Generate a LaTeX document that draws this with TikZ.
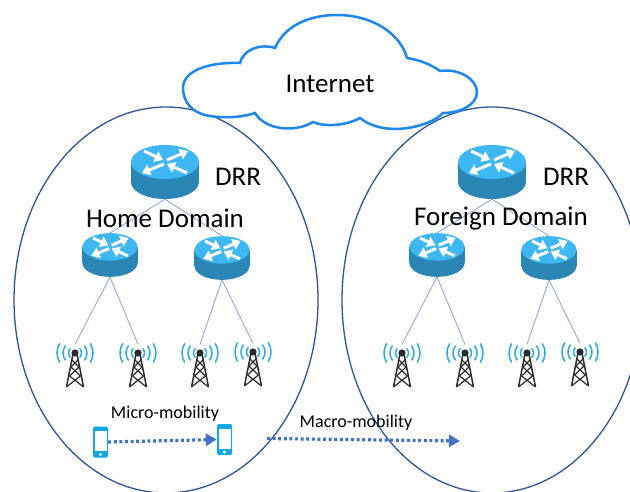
\documentclass[tikz,border=0pt]{standalone}
\usepackage{fontspec}
\setmainfont{Carlito}
\usepackage{xcolor}
\usepackage{tikz}
\usetikzlibrary{arrows.meta, positioning}
\definecolor{domainblue}{HTML}{2F5597}
\definecolor{cloudblue}{HTML}{1E86F0}
\definecolor{linkblue}{HTML}{8FAADC}
\definecolor{moveblue}{HTML}{4472C4}
\definecolor{routertop}{HTML}{3DB8F5}
\definecolor{routerside}{HTML}{2A86B5}
\definecolor{wavecyan}{HTML}{29ABE2}
\definecolor{phonecyan}{HTML}{12A8E0}
\definecolor{towerdark}{HTML}{2B2B2B}
\tikzset{
  domainring/.style={draw=domainblue, line width=1.3pt},
  linkline/.style={draw=linkblue, line width=0.9pt},
  movearrow/.style={draw=moveblue, line width=3.2pt, dash pattern=on 3pt off 2.6pt, -{Triangle[length=11pt,width=12pt,fill=moveblue]}},
  bigtext/.style={font=\fontsize{27}{30}\selectfont, inner sep=0pt},
  smalltext/.style={font=\fontsize{18}{20}\selectfont, inner sep=0pt},
  flowarrow/.style={draw=white, line width=3pt, -{Triangle[length=8pt,width=11pt]}},
  pics/router/.style={code={
    \node[inner sep=0pt, minimum width=68pt, minimum height=54pt, transform shape] (-box) at (0,0) {};
    \fill[routerside] (0,10) ellipse [x radius=34, y radius=17];
    \fill[routerside] (-34,-10) rectangle (34,10);
    \fill[routertop] (0,-10) ellipse [x radius=34, y radius=17];
    \draw[flowarrow] (-21,-21) -- (-2,-12);
    \draw[flowarrow] (2,-12) -- (23,-21);
    \draw[flowarrow] (-1,-8) -- (-23,1);
    \draw[flowarrow] (22,1) -- (2,-8);
  }},
  pics/tower/.style={code={
    \node[inner sep=0pt, minimum width=20pt, minimum height=43pt] (-box) at (0,0) {};
    \foreach \r/\a in {6.5/45, 12/38, 18/32} {
      \draw[wavecyan, line width=1.5pt] (0,-13) ++(-\a:\r) arc (-\a:\a:\r);
      \draw[wavecyan, line width=1.5pt] (0,-13) ++(180-\a:\r) arc (180-\a:180+\a:\r);
    }
    \draw[towerdark, line width=1.5pt, line join=round] (-8.5,21) -- (-2,-12) -- (2,-12) -- (8.5,21);
    \draw[towerdark, line width=1.2pt] (-8.5,21) -- (5.4,10) -- (-4,1) -- (3,-6) (8.5,21) -- (-5.4,10) -- (4,1) -- (-3,-6);
    \fill[towerdark] (0,-13) circle (3.6);
  }},
  pics/phone/.style={code={
    \node[inner sep=0pt, minimum width=15pt, minimum height=31pt, rounded corners=1.5pt, fill=phonecyan] (-box) at (0,0) {};
    \fill[white] (-6,-11) rectangle (6,9);
    \fill[white] (0,12.5) circle (1.6);
  }},
}
\begin{document}
\begin{tikzpicture}[x=1pt, y=-1pt]
  \useasboundingbox (0,0) rectangle (630,492);
  \fill[white] (0,0) rectangle (630,492);

  % domains
  \draw[domainring] (166,300) ellipse [x radius=152, y radius=193];
  \draw[domainring] (492,300) ellipse [x radius=150, y radius=193];

  % cloud
  \draw[draw=cloudblue, fill=white, line width=2.5pt, line join=miter]
    (240,63) .. controls (243,50) and (260,43) .. (275,48)
    .. controls (285,25) and (310,15) .. (337,15)
    .. controls (372,15) and (400,33) .. (407,58)
    .. controls (420,60) and (432,65) .. (440,71)
    .. controls (460,68) and (477,80) .. (477,92)
    .. controls (477,105) and (460,113) .. (443,113)
    .. controls (430,127) and (385,138) .. (360,118)
    .. controls (345,126) and (325,127) .. (313,122)
    .. controls (295,133) and (265,130) .. (255,113)
    .. controls (240,118) and (222,118) .. (210,116)
    .. controls (190,113) and (183,100) .. (183,88)
    .. controls (183,72) and (205,62) .. (240,63) -- cycle;
  \node[font=\fontsize{27}{30}\selectfont, inner sep=0pt] (internet) at (330,84) {Internet};

  % routers and towers, the same in each domain
  \foreach \dom/\dx in {home/0, foreign/327} {
    \begin{scope}[xshift=\dx]
      \pic (\dom drr) at (165,172) {router};
      \pic[scale=0.81] (\dom left) at (110,255) {router};
      \pic[scale=0.81] (\dom right) at (222,258) {router};
      \pic (\dom t1) at (75,366) {tower};
      \pic (\dom t2) at (138,366) {tower};
      \pic (\dom t3) at (200,366) {tower};
      \pic (\dom t4) at (253,365) {tower};
      \draw[linkline] (\dom drr-box.south) -- (\dom left-box.north);
      \draw[linkline] (\dom drr-box.south) -- (\dom right-box.north);
      \draw[linkline] (\dom left-box.south) -- (\dom t1-box.north);
      \draw[linkline] (\dom left-box.south) -- (\dom t2-box.north);
      \draw[linkline] (\dom right-box.south) -- (\dom t3-box.north);
      \draw[linkline] (\dom right-box.south) -- (\dom t4-box.north);
    \end{scope}
  }
  \node[bigtext] (homedrrlabel) at (238,177) {DRR};
  \node[bigtext] (foreigndrrlabel) at (566,177) {DRR};
  \node[bigtext] (homelabel) at (165,218) {Home Domain};
  \node[bigtext] (foreignlabel) at (501,219) {Foreign Domain};

  % mobility
  \pic (phonea) at (100.5,442) {phone};
  \pic (phoneb) at (224.5,439.5) {phone};
  \coordinate (macrostart) at (267,438.5);
  \coordinate (macroend) at (460,441);
  \draw[movearrow] (phonea-box.east) -- (phoneb-box.west);
  \draw[movearrow] (macrostart) -- (macroend);
  \node[smalltext] (microlabel) at (165,414) {Micro-mobility};
  \node[smalltext] (macrolabel) at (356,423) {Macro-mobility};
\end{tikzpicture}
\end{document}
